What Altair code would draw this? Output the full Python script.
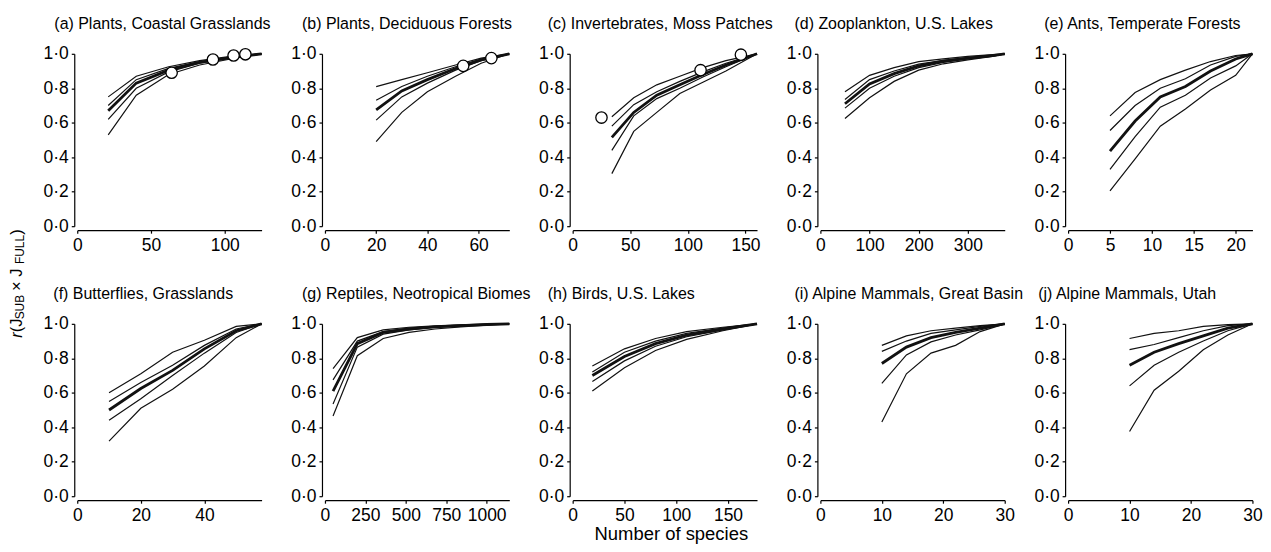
import altair as alt
import pandas as pd

FONT = "Liberation Sans"

# ---------------- data ----------------
# five curves per panel: upper, upper-mid, median (thick), lower-mid, lower
A_X = [21, 40, 62, 83, 104, 125]
A_Y = [[0.75, 0.87, 0.925, 0.96, 0.985, 1.0],
       [0.70, 0.85, 0.915, 0.955, 0.98, 1.0],
       [0.67, 0.83, 0.905, 0.95, 0.978, 1.0],
       [0.62, 0.80, 0.895, 0.945, 0.975, 1.0],
       [0.53, 0.76, 0.88, 0.935, 0.97, 1.0]]
A_PX = [64, 92, 106, 114]
A_PY = [0.89, 0.967, 0.99, 0.997]

B_X = [20, 30, 40, 51, 61, 72]
B_Y = [[0.81, 0.85, 0.89, 0.935, 0.975, 1.0],
       [0.73, 0.81, 0.87, 0.925, 0.97, 1.0],
       [0.675, 0.785, 0.85, 0.915, 0.965, 1.0],
       [0.615, 0.75, 0.83, 0.905, 0.96, 1.0],
       [0.49, 0.66, 0.78, 0.87, 0.945, 1.0]]
B_PX = [54, 65]
B_PY = [0.93, 0.975]

C_X = [34, 53, 73, 93, 113, 133, 160]
C_Y = [[0.635, 0.745, 0.82, 0.87, 0.92, 0.96, 1.0],
       [0.58, 0.705, 0.78, 0.84, 0.895, 0.945, 1.0],
       [0.515, 0.66, 0.76, 0.82, 0.88, 0.935, 1.0],
       [0.44, 0.64, 0.74, 0.80, 0.865, 0.925, 1.0],
       [0.305, 0.55, 0.66, 0.77, 0.835, 0.90, 1.0]]
C_PX = [25, 111, 146]
C_PY = [0.63, 0.905, 0.995]

D_X = [50, 100, 150, 200, 250, 300, 350, 375]
D_Y = [[0.78, 0.875, 0.92, 0.955, 0.97, 0.985, 0.995, 1.0],
       [0.735, 0.85, 0.90, 0.94, 0.962, 0.978, 0.99, 1.0],
       [0.71, 0.825, 0.885, 0.93, 0.957, 0.975, 0.99, 1.0],
       [0.685, 0.80, 0.87, 0.92, 0.95, 0.97, 0.987, 1.0],
       [0.625, 0.745, 0.84, 0.905, 0.942, 0.965, 0.985, 1.0]]

E_X = [5, 8, 11, 14, 17, 20, 22]
E_Y = [[0.64, 0.775, 0.85, 0.905, 0.955, 0.99, 1.0],
       [0.555, 0.70, 0.80, 0.855, 0.935, 0.985, 1.0],
       [0.435, 0.61, 0.75, 0.81, 0.90, 0.97, 1.0],
       [0.33, 0.52, 0.69, 0.76, 0.86, 0.93, 1.0],
       [0.205, 0.39, 0.58, 0.68, 0.79, 0.875, 1.0]]

F_X = [10, 20, 30, 40, 50, 58]
F_Y = [[0.60, 0.71, 0.835, 0.905, 0.985, 1.0],
       [0.55, 0.66, 0.76, 0.875, 0.97, 1.0],
       [0.50, 0.625, 0.73, 0.855, 0.96, 1.0],
       [0.44, 0.565, 0.70, 0.83, 0.95, 1.0],
       [0.32, 0.51, 0.62, 0.755, 0.92, 1.0]]

G_X = [50, 200, 360, 520, 680, 840, 1000, 1140]
G_Y = [[0.74, 0.92, 0.965, 0.98, 0.988, 0.994, 0.998, 1.0],
       [0.675, 0.90, 0.955, 0.975, 0.985, 0.992, 0.997, 1.0],
       [0.61, 0.885, 0.95, 0.97, 0.982, 0.99, 0.996, 1.0],
       [0.535, 0.865, 0.94, 0.965, 0.98, 0.988, 0.995, 1.0],
       [0.465, 0.815, 0.915, 0.95, 0.97, 0.982, 0.992, 1.0]]

H_X = [19, 50, 80, 110, 145, 178]
H_Y = [[0.755, 0.855, 0.915, 0.955, 0.98, 1.0],
       [0.72, 0.835, 0.90, 0.945, 0.975, 1.0],
       [0.70, 0.81, 0.885, 0.935, 0.97, 1.0],
       [0.665, 0.785, 0.87, 0.925, 0.965, 1.0],
       [0.61, 0.745, 0.845, 0.91, 0.96, 1.0]]

I_X = [10, 14, 18, 22, 26, 30]
I_Y = [[0.875, 0.93, 0.96, 0.975, 0.99, 1.0],
       [0.84, 0.90, 0.945, 0.965, 0.985, 1.0],
       [0.77, 0.865, 0.92, 0.95, 0.975, 1.0],
       [0.655, 0.82, 0.895, 0.935, 0.965, 1.0],
       [0.43, 0.71, 0.83, 0.875, 0.955, 1.0]]

J_X = [10, 14, 18, 22, 26, 30]
J_Y = [[0.915, 0.945, 0.96, 0.985, 0.995, 1.0],
       [0.85, 0.88, 0.92, 0.96, 0.99, 1.0],
       [0.76, 0.835, 0.885, 0.93, 0.975, 1.0],
       [0.64, 0.76, 0.835, 0.90, 0.96, 1.0],
       [0.375, 0.615, 0.725, 0.85, 0.935, 1.0]]

TITLES = ["(a) Plants, Coastal Grasslands", "(b) Plants, Deciduous Forests",
          "(c) Invertebrates, Moss Patches", "(d) Zooplankton, U.S. Lakes",
          "(e) Ants, Temperate Forests", "(f) Butterflies, Grasslands",
          "(g) Reptiles, Neotropical Biomes", "(h) Birds, U.S. Lakes",
          "(i) Alpine Mammals, Great Basin", "(j) Alpine Mammals, Utah"]
X_MAX = [125, 72, 160, 375, 22, 58, 1140, 178, 30, 30]
X_TICKS = [[0, 50, 100], [0, 20, 40, 60], [0, 50, 100, 150], [0, 100, 200, 300],
           [0, 5, 10, 15, 20], [0, 20, 40], [0, 250, 500, 750, 1000],
           [0, 50, 100, 150], [0, 10, 20, 30], [0, 10, 20, 30]]
Y_TICKS = [0, 0.2, 0.4, 0.6, 0.8, 1.0]

# ---------------- layout / style ----------------
W, H = 185, 173
TITLE_DX = [-23, -23, -25, -26, -24, -24, -23, -25, -26, -30]
LINE_COLOR = "#111111"


def panel(i, xs, ys, px=None, py=None):
    rows = []
    for k, s in enumerate(ys):
        for x, y in zip(xs, s):
            rows.append({"x": x, "y": y, "s": k})
    df = pd.DataFrame(rows)
    xtitle = "Number of species" if i == 7 else None
    xenc = alt.X("x:Q",
                 scale=alt.Scale(domain=[0, X_MAX[i]], nice=False, zero=False),
                 title=xtitle,
                 axis=alt.Axis(values=X_TICKS[i], offset=4, labelFlush=False,
                               format="d", labelOverlap=False,
                               titleFontSize=18.5, titleFont=FONT,
                               titleFontWeight="normal", titleColor="black",
                               titleX=W / 2 + 6, titleY=39, titleAlign="center",
                               titleBaseline="alphabetic", titleAngle=0))
    yenc = alt.Y("y:Q", scale=alt.Scale(domain=[0, 1], nice=False),
                 title=None,
                 axis=alt.Axis(values=Y_TICKS, offset=3, labelOverlap=False,
                               labelFlush=False,
                               labelExpr="replace(format(datum.value, '.1f'), '.', '\u00b7')"))
    base = alt.Chart(df).encode(x=xenc, y=yenc)
    thin = base.transform_filter("datum.s != 2").mark_line(
        color=LINE_COLOR, strokeWidth=1.2).encode(detail="s:N")
    thick = base.transform_filter("datum.s == 2").mark_line(
        color=LINE_COLOR, strokeWidth=2.8)
    layers = [thin, thick]
    if px is not None:
        pdf = pd.DataFrame({"x": px, "y": py})
        pts = alt.Chart(pdf).mark_point(
            shape="circle", filled=True, fill="white", stroke="black",
            strokeWidth=1.3, size=130, opacity=1).encode(x=xenc, y=yenc)
        layers.append(pts)
    if i == 0:
        # global y-axis label r(J_SUB x J_FULL), built from rotated pieces
        lab = pd.DataFrame({"a": [0]})
        X0, Y0 = -55, 285
        pieces = [("r", 0, 0, 16.5, "italic"), ("(J", 5.5, 0, 16.5, "normal"),
                  ("SUB", 18.5, 2, 12, "normal"), (" \u00d7 J", 47, 0, 16.5, "normal"),
                  ("FULL", 74, 2, 12, "normal"), (")", 103.5, 0, 16.5, "normal")]
        for txt, dx, dy, fs, st in pieces:
            layers.append(alt.Chart(lab).mark_text(
                angle=270, align="left", baseline="alphabetic", dx=dx, dy=dy,
                fontSize=fs, font=FONT, fontStyle=st, color="black").encode(
                x=alt.value(X0), y=alt.value(Y0), text=alt.value(txt)))
    return alt.layer(*layers).properties(
        width=W, height=H,
        title=alt.TitleParams(text=TITLES[i], anchor="start", frame="group",
                              dx=TITLE_DX[i], fontSize=16, font=FONT,
                              fontWeight="normal", color="black", offset=0,
                              baseline="alphabetic"))


charts = [
    panel(0, A_X, A_Y, A_PX, A_PY),
    panel(1, B_X, B_Y, B_PX, B_PY),
    panel(2, C_X, C_Y, C_PX, C_PY),
    panel(3, D_X, D_Y),
    panel(4, E_X, E_Y),
    panel(5, F_X, F_Y),
    panel(6, G_X, G_Y),
    panel(7, H_X, H_Y),
    panel(8, I_X, I_Y),
    panel(9, J_X, J_Y),
]

chart = alt.concat(*charts, columns=5, spacing={"row": 98, "column": 63.6},
                   bounds="flush").properties(
    padding={"left": 1.5, "top": 7, "right": 0, "bottom": 0}
).configure_view(strokeOpacity=0).configure_axis(
    domainColor="black", domainWidth=1.2, tickColor="black", tickWidth=1.2,
    tickSize=3, labelFont=FONT, labelFontSize=17.5, labelColor="black",
    grid=False, labelPadding=3)

chart.save("out.html", embed_options={"renderer": "svg", "actions": False})
